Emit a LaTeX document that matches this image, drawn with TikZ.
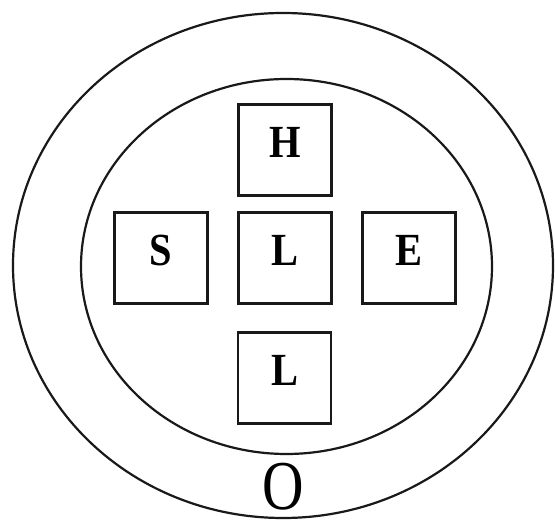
\documentclass[tikz,border=0pt]{standalone}
\usepackage{fontspec}
\setmainfont{Liberation Serif}
\usetikzlibrary{positioning}
\newcommand{\boxletter}[1]{\scalebox{0.88}[1]{\fontsize{46}{46}\selectfont\bfseries #1}}
\tikzset{
  ring/.style={line width=2.2pt, draw=black!90},
  cell/.style={draw=black!90, line width=2.2pt, minimum width=93pt, minimum height=91pt,
    inner sep=0pt, text height=31pt, text depth=16pt, anchor=center},
  outerlabel/.style={inner sep=0pt}
}
\begin{document}
\begin{tikzpicture}[x=1pt,y=1pt]
  \useasboundingbox (0,0) rectangle (555,-521);
  \fill[white] (0,0) rectangle (555,-521);
  % rings
  \coordinate (oc) at (283,-265.5);
  \coordinate (ic) at (286.5,-266.5);
  \draw[ring] (oc) ellipse [x radius=270, y radius=252.5];
  \draw[ring] (ic) ellipse [x radius=205.5, y radius=187.5];
  % boxes
  \node[cell] (H) at (285,-150) {\boxletter{H}};
  \node[cell] (Lc) at (285,-258) {\boxletter{L}};
  \node[cell] (S) at (161,-258) {\boxletter{S}};
  \node[cell] (E) at (409,-258) {\boxletter{E}};
  \node[cell] (Lb) at (284.5,-378) {\boxletter{L}};
  % outer label
  \node[outerlabel] (O) at (283.5,-487) {\scalebox{0.82}[1]{\fontsize{70}{70}\selectfont O}};
\end{tikzpicture}
\end{document}
